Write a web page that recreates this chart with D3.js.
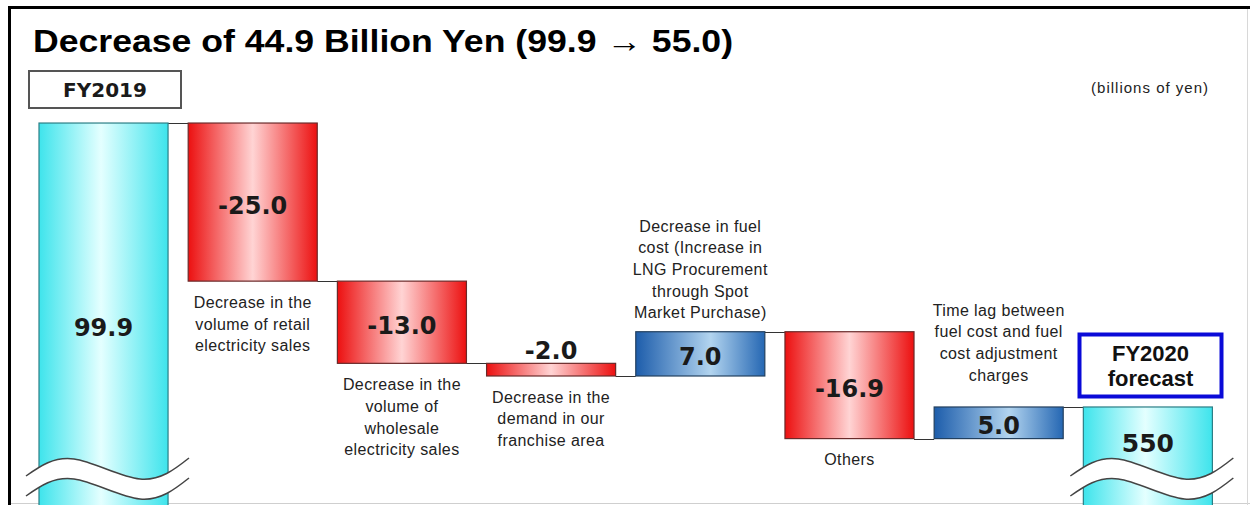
<!DOCTYPE html>
<html>
<head>
<meta charset="utf-8">
<script src="https://cdn.jsdelivr.net/npm/d3@7"></script>
<style>
  html, body { margin: 0; padding: 0; background: #fff; }
  svg { display: block; }
</style>
</head>
<body>
<div id="chart"></div>
<script>
// values in billions of yen
const categories = ["FY2019", "retail", "wholesale", "demand", "fuel", "others", "timelag", "FY2020 forecast"];
const values = [99.9, -25.0, -13.0, -2.0, 7.0, -16.9, 5.0, 55.0];
const valueLabels = ["99.9", "-25.0", "-13.0", "-2.0", "7.0", "-16.9", "5.0", "550"];
const kinds = ["total", "delta", "delta", "delta", "delta", "delta", "delta", "total"];
const descriptions = [
    [],
    ["Decrease in the", "volume of retail", "electricity sales"],
    ["Decrease in the", "volume of", "wholesale", "electricity sales"],
    ["Decrease in the", "demand in our", "franchise area"],
    ["Decrease in fuel", "cost (Increase in", "LNG Procurement", "through Spot", "Market Purchase)"],
    ["Others"],
    ["Time lag between", "fuel cost and fuel", "cost adjustment", "charges"],
    []
];
const titleText = "Decrease of 44.9 Billion Yen (99.9 \u2192 55.0)";
const unitText = "(billions of yen)";

const W = 1250, H = 505;
const svg = d3.select("#chart").append("svg").attr("width", W).attr("height", H);

// build waterfall steps
var running = 0;
const steps = values.map(function(v, i) {
    var s;
    if (kinds[i] === "total") { s = { start: null, end: v }; running = v; }
    else { s = { start: running, end: running + v }; running = running + v; }
    s.i = i; s.v = v; s.kind = kinds[i];
    return s;
});

const x = d3.scaleBand().domain(d3.range(categories.length)).range([39, 1212.4]).paddingInner(0.135).paddingOuter(0);
const y = d3.scaleLinear().domain([39.5, 100]).range([H, 122.4]);

// gradients
const defs = svg.append("defs");
function grad(id, stops) {
    const g = defs.append("linearGradient").attr("id", id).attr("x1", "0%").attr("x2", "100%").attr("y1", "0%").attr("y2", "0%");
    stops.forEach(s => g.append("stop").attr("offset", s[0]).attr("stop-color", s[1]));
}
grad("gCyan", [["0%", "#3ee4ec"], ["48%", "#e4ffff"], ["100%", "#3ee4ec"]]);
grad("gRed", [["0%", "#ec1010"], ["50%", "#ffd4d4"], ["100%", "#ec1010"]]);
grad("gBlue", [["0%", "#1d5dab"], ["58%", "#b2d4ef"], ["100%", "#2567b3"]]);

// frame
svg.append("rect").attr("x", 9.5).attr("y", 7.5).attr("width", 1300).attr("height", 600)
    .attr("fill", "none").attr("stroke", "#000").attr("stroke-width", 3);
svg.append("line").attr("x1", 11).attr("x2", W).attr("y1", 503.5).attr("y2", 503.5).attr("stroke", "#cfcfcf");
svg.append("line").attr("x1", 1247.5).attr("x2", 1247.5).attr("y1", 9).attr("y2", H).attr("stroke", "#d8d8d8");

// title (the slide is a bit wider than the font, so stretch it)
svg.append("text").attr("x", 33).attr("y", 52)
    .attr("font-family", "Liberation Sans, Arial, sans-serif").attr("font-weight", "bold")
    .attr("font-size", 32).attr("textLength", 700).attr("lengthAdjust", "spacingAndGlyphs")
    .attr("fill", "#000").text(titleText);

svg.append("text").attr("x", 1209).attr("y", 93).attr("text-anchor", "end")
    .attr("font-family", "Liberation Sans, Arial, sans-serif").attr("font-size", 15)
    .style("letter-spacing", "1px").attr("fill", "#222").text(unitText);

// connectors
const conn = svg.append("g").attr("stroke", "#333").attr("stroke-width", 1);
for (let i = 0; i < steps.length - 1; i++) {
    const lvl = steps[i].end;
    conn.append("line")
        .attr("x1", x(i) + x.bandwidth()).attr("x2", x(i + 1))
        .attr("y1", Math.round(y(lvl)) + 0.5).attr("y2", Math.round(y(lvl)) + 0.5);
}

// bars
svg.append("g").selectAll("rect").data(steps).enter().append("rect")
    .attr("x", d => x(d.i))
    .attr("width", x.bandwidth())
    .attr("y", d => d.kind === "total" ? y(d.end) : y(Math.max(d.start, d.end)))
    .attr("height", d => d.kind === "total" ? H - y(d.end) + 5 : Math.abs(y(d.start) - y(d.end)))
    .attr("fill", d => d.kind === "total" ? "url(#gCyan)" : (d.v < 0 ? "url(#gRed)" : "url(#gBlue)"))
    .attr("stroke", d => d.kind === "total" ? "#2b7f86" : (d.v < 0 ? "#6a2a2a" : "#23405f"))
    .attr("stroke-width", 1.2);

// break waves on total bars
const wave = d3.line().curve(d3.curveNatural);
steps.filter(d => d.kind === "total").forEach(function(d) {
    const L = x(d.i) - 13;
    const up = [[L, 476], [L + 48, 459], [L + 114, 479], [L + 163, 458]];
    const lo = up.map(p => [p[0], p[1] + 20]);
    svg.append("path").attr("d", wave(up) + "L" + wave(lo.slice().reverse()).slice(1) + "Z")
        .attr("fill", "#fff").attr("stroke", "none");
    svg.append("path").attr("d", wave(up)).attr("fill", "none").attr("stroke", "#444").attr("stroke-width", 1.5);
    svg.append("path").attr("d", wave(lo)).attr("fill", "none").attr("stroke", "#444").attr("stroke-width", 1.5);
});

// value labels
svg.append("g").selectAll("text").data(steps).enter().append("text")
    .attr("x", d => x(d.i) + x.bandwidth() / 2)
    .attr("y", function(d) {
        if (d.kind === "total") return y(d.end) + (d.i === 0 ? 204 : 36);
        const top = y(Math.max(d.start, d.end)), bot = y(Math.min(d.start, d.end));
        if (bot - top < 30) return top - 13;
        return (top + bot) / 2 + 3;
    })
    .attr("dy", "0.36em")
    .attr("text-anchor", "middle")
    .attr("font-family", "DejaVu Sans, Verdana, sans-serif").attr("font-weight", "bold")
    .attr("font-size", d => d.i === 7 ? 25 : 24)
    .attr("fill", "#1a1a1a")
    .text(d => valueLabels[d.i]);

// descriptions
const lineH = 21.7;
steps.forEach(function(d) {
    const lines = descriptions[d.i];
    if (!lines.length) return;
    const top = y(Math.max(d.start, d.end)), bot = y(Math.min(d.start, d.end));
    var firstY;
    if (d.v < 0) firstY = bot + 21;
    else firstY = top - (d.i === 6 ? 32 : 19) - (lines.length - 1) * lineH;
    const t = svg.append("text")
        .attr("text-anchor", "middle")
        .attr("font-family", "Liberation Sans, Arial, sans-serif").attr("font-size", 16)
        .style("letter-spacing", "0.4px").attr("fill", "#222");
    lines.forEach((ln, k) => {
        t.append("tspan").attr("x", x(d.i) + x.bandwidth() / 2).attr("y", firstY + k * lineH).attr("dy", "0.36em").text(ln);
    });
});

// FY2019 label box
svg.append("rect").attr("x", 29).attr("y", 71).attr("width", 152).attr("height", 37)
    .attr("fill", "#fff").attr("stroke", "#555").attr("stroke-width", 2);
svg.append("text").attr("x", 105).attr("y", 90).attr("dy", "0.36em").attr("text-anchor", "middle")
    .attr("font-family", "DejaVu Sans, Verdana, sans-serif").attr("font-weight", "bold")
    .attr("font-size", 20).attr("fill", "#1a1a1a").text(categories[0]);

// FY2020 forecast box
svg.append("rect").attr("x", 1079.5).attr("y", 334.5).attr("width", 142).attr("height", 62)
    .attr("fill", "#fff").attr("stroke", "#0a0ad8").attr("stroke-width", 4);
const ft = svg.append("text").attr("text-anchor", "middle")
    .attr("font-family", "Liberation Sans, Arial, sans-serif").attr("font-weight", "bold")
    .attr("font-size", 22).attr("fill", "#111");
categories[7].split(" ").forEach((w, k) => {
    ft.append("tspan").attr("x", 1150.5).attr("y", 353 + k * 25).attr("dy", "0.36em").text(w);
});
</script>
</body>
</html>
